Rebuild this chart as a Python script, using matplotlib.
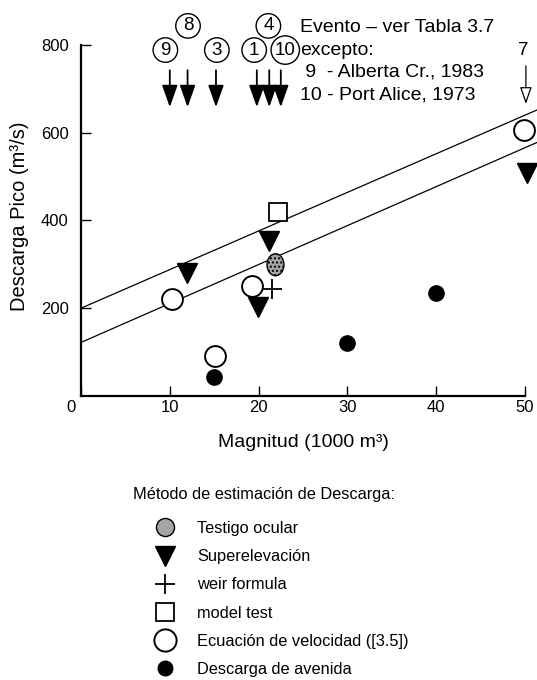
import numpy as np
import matplotlib as mpl
mpl.use('Agg')
import matplotlib.pyplot as plt
import matplotlib.transforms as mtransforms
from matplotlib.lines import Line2D
from matplotlib.patches import Ellipse

plt.rcParams['font.family'] = ['Liberation Sans', 'DejaVu Sans']

# data (x in 1000 m3, y in m3/s)
velocidad_x = [10.2, 15.1, 19.3, 49.9]
velocidad_y = [222, 91, 250, 606]
superelev_x = [11.9, 21.2, 19.9, 50.2]
superelev_y = [280, 352, 202, 508]
modelo_x = [22.2]
modelo_y = [418]
weir_x = [21.5]
weir_y = [244]
testigo_x = [21.9]
testigo_y = [299]
avenida_x = [15.0, 29.9, 40.0]
avenida_y = [43, 121, 235]

# envelope band (end points)
band_x = [0, 51.4]
band_upper = [200, 652]
band_lower = [122, 578]

# event arrows and their circled labels
event_labels = ['9', '8', '3', '1', '4', '10']
event_x = [10.0, 12.0, 15.2, 19.8, 21.2, 22.5]
label_x = [9.5, 12.05, 15.3, 19.5, 21.1, 23.0]
label_row = [0, 1, 0, 0, 1, 0]

xticks = [0, 10, 20, 30, 40, 50]
yticks = [200, 400, 600, 800]

fig = plt.figure(figsize=(5.37, 6.8), dpi=100)
ax = fig.add_axes([81/537, 1 - 396/680, 456/537, 396/680])
ax.set_xlim(0, 51.35)
ax.set_ylim(0, 902)

for s in ['top', 'right']:
    ax.spines[s].set_visible(False)
ax.spines['left'].set_bounds(0, 800)
ax.spines['bottom'].set_bounds(0, 50)
ax.spines['left'].set_linewidth(1.6)
ax.spines['bottom'].set_linewidth(1.6)

ax.set_xticks(xticks)
ax.set_yticks(yticks)
ax.tick_params(direction='in', length=7, width=1, labelsize=12)
ax.tick_params(axis='x', pad=3)
ax.tick_params(axis='y', pad=9)
# the shared origin label sits left of the corner
lab0 = ax.get_xticklabels()[0]
lab0.set_transform(lab0.get_transform() + mtransforms.ScaledTranslation(-0.1, 0, fig.dpi_scale_trans))

ax.plot(band_x, band_upper, color='black', lw=0.9, zorder=1)
ax.plot(band_x, band_lower, color='black', lw=0.9, zorder=1)

ax.plot(velocidad_x, velocidad_y, 'o', ms=15, mfc='white', mec='black', mew=1.4, ls='', zorder=3)
ax.plot(superelev_x, superelev_y, 'v', ms=14, color='black', ls='', zorder=3)
ax.plot(modelo_x, modelo_y, 's', ms=13, mfc='white', mec='black', mew=1.3, ls='', zorder=3)
ax.plot(weir_x, weir_y, '+', ms=15, color='black', mew=1.3, ls='', zorder=4)
ax.plot(avenida_x, avenida_y, 'o', ms=11, color='black', ls='', zorder=3)
for x, y in zip(testigo_x, testigo_y):
    ax.add_patch(Ellipse((x, y), 1.9, 50, fc='#a5a5a5', ec='black', lw=1, hatch='....', zorder=3))

# event arrows
for x in event_x:
    ax.annotate('', xy=(x, 658), xytext=(x, 742),
                arrowprops=dict(arrowstyle='-|>,head_length=0.9,head_width=0.32',
                                color='black', lw=1.3, mutation_scale=15,
                                shrinkA=0, shrinkB=0))
ax.annotate('', xy=(50.1, 665), xytext=(50.1, 752),
            arrowprops=dict(arrowstyle='-|>,head_length=0.8,head_width=0.28',
                            fc='white', ec='black', lw=0.9, mutation_scale=13,
                            shrinkA=0, shrinkB=0))

for lab, x, r in zip(event_labels, label_x, label_row):
    ax.text(x, 788 + 55 * r, lab, fontsize=13.5, ha='center', va='center',
            bbox=dict(boxstyle='circle,pad=0.2', fc='none', ec='black', lw=1))
ax.text(49.8, 788, '7', fontsize=13.5, ha='center', va='center')

ax.text(24.7, 840, 'Evento – ver Tabla 3.7', fontsize=14, va='center')
ax.text(24.7, 788, 'excepto:', fontsize=14, va='center')
ax.text(24.7, 737, ' 9  - Alberta Cr., 1983', fontsize=14, va='center')
ax.text(24.7, 686, '10 - Port Alice, 1973', fontsize=14, va='center')

ax.set_xlabel('Magnitud (1000 m³)', fontsize=14)
ax.xaxis.set_label_coords(0.487, -0.095)
ax.set_ylabel('Descarga Pico (m³/s)', fontsize=14.5)
ax.yaxis.set_label_coords(-0.115, 0.455)

fig.text(133/537, 1 - 495/680, 'Método de estimación de Descarga:', fontsize=11.8, va='center')

handles = [
    Line2D([], [], marker='o', ms=13, mfc='#a5a5a5', mec='black', ls=''),
    Line2D([], [], marker='v', ms=14, color='black', ls=''),
    Line2D([], [], marker='+', ms=15, mew=1.3, color='black', ls=''),
    Line2D([], [], marker='s', ms=13, mfc='white', mec='black', mew=1.3, ls=''),
    Line2D([], [], marker='o', ms=16, mfc='white', mec='black', mew=1.4, ls=''),
    Line2D([], [], marker='o', ms=10.5, color='black', ls=''),
]
labels = ['Testigo ocular', 'Superelevación', 'weir formula', 'model test',
          'Ecuación de velocidad ([3.5])', 'Descarga de avenida']
fig.legend(handles, labels, loc='upper left', bbox_to_anchor=(0.2797, 0.2432),
           frameon=False, fontsize=11.8, handlelength=1.0, handletextpad=1.45,
           labelspacing=0.8, borderaxespad=0, borderpad=0.4)

fig.savefig('out.png', dpi=100)
